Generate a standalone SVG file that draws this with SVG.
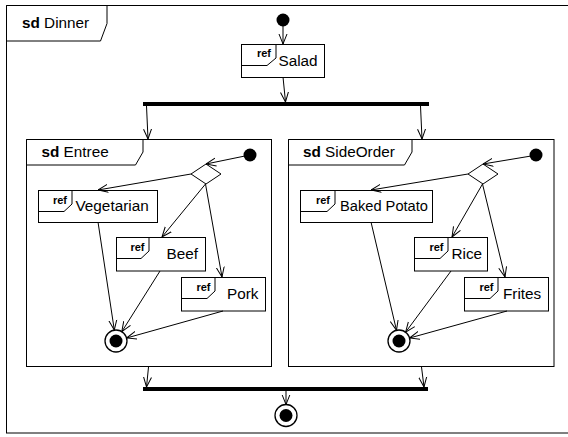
<svg xmlns="http://www.w3.org/2000/svg" width="568" height="437" viewBox="0 0 568 437">
<defs>
<marker id="arr" viewBox="0 0 10 10" refX="10" refY="5" markerWidth="10" markerHeight="10" markerUnits="userSpaceOnUse" orient="auto">
<path d="M0,1 L10,5 L0,9" fill="none" stroke="#000" stroke-width="1"/>
</marker>
</defs>
<style>
.fr{fill:#fff;stroke:#000;stroke-width:1}
.lbl{fill:#fff;stroke:#000;stroke-width:1}
.t{font-family:"Liberation Sans",Arial,sans-serif;font-size:15.3px;fill:#000}
.b{font-weight:bold}
.ref{font-family:"Liberation Sans",Arial,sans-serif;font-size:11px;font-weight:bold;fill:#000;text-anchor:end}
.box{fill:#fff;stroke:#000;stroke-width:1}
.tab{fill:none;stroke:#000;stroke-width:1}
.c line,.c path{stroke:#000;stroke-width:1;fill:none;marker-end:url(#arr)}
.dot{fill:#000}
.ring{fill:#fff;stroke:#000;stroke-width:1.3}
</style>
<g id="frame-dinner">
<rect class="fr" x="6.5" y="5.5" width="563" height="427.5"/>
<path class="lbl" d="M6.5,5.5 H107 V23.5 L100.5,41 H6.5 Z"/>
<text class="t" x="22" y="28"><tspan class="b">sd</tspan> Dinner</text>
</g>
<g id="frame-entree">
<rect class="fr" x="26.5" y="139.5" width="245" height="227"/>
<path class="lbl" d="M26.5,139.5 H143 V152 L135.5,165 H26.5 Z"/>
<text class="t" x="41.5" y="157"><tspan class="b">sd</tspan> Entree</text>
</g>
<g id="frame-sideorder">
<rect class="fr" x="288.5" y="139.5" width="265.5" height="227"/>
<path class="lbl" d="M288.5,139.5 H412 V152 L404.5,165 H288.5 Z"/>
<text class="t" x="303" y="157"><tspan class="b">sd</tspan> SideOrder</text>
</g>
<g id="start-dinner"><circle class="dot" cx="283" cy="20" r="6.5"/></g>
<g id="salad">
<rect class="box" x="241.5" y="44.5" width="83" height="33"/>
<path class="tab" d="M241.5,65.5 H267 L276,58 V44.5"/>
<text class="ref" x="271" y="57">ref</text>
<text class="t" x="278.5" y="66">Salad</text>
</g>
<g id="fork"><rect x="143" y="102" width="286" height="4" fill="#000"/></g>
<g id="join"><rect x="143" y="387" width="285" height="4" fill="#000"/></g>
<g id="end-dinner"><circle class="ring" cx="286" cy="415.5" r="11"/><circle class="dot" cx="286" cy="415.5" r="6.5"/></g>
<g id="start-entree"><circle class="dot" cx="250" cy="155" r="6.5"/></g>
<g id="decision-entree"><path class="box" d="M191,174 L206,164 L221,174 L206,184 Z"/></g>
<g id="vegetarian">
<rect class="box" x="38.5" y="190.5" width="119" height="32"/>
<path class="tab" d="M38.5,211.5 H64 L72,204 V190.5"/>
<text class="ref" x="67" y="203.5">ref</text>
<text class="t" x="75.5" y="210.5">Vegetarian</text>
</g>
<g id="beef">
<rect class="box" x="116.5" y="237.5" width="89" height="33.5"/>
<path class="tab" d="M116.5,258.5 H141 L149,251 V237.5"/>
<text class="ref" x="144.5" y="250.5">ref</text>
<text class="t" x="166.5" y="258.5">Beef</text>
</g>
<g id="pork">
<rect class="box" x="181.5" y="277.5" width="84" height="33.5"/>
<path class="tab" d="M181.5,298.5 H207 L215,291 V277.5"/>
<text class="ref" x="210.5" y="290.5">ref</text>
<text class="t" x="227" y="298.5">Pork</text>
</g>
<g id="end-entree"><circle class="ring" cx="116" cy="341" r="11"/><circle class="dot" cx="116" cy="341" r="6.5"/></g>
<g id="start-sideorder"><circle class="dot" cx="536" cy="155" r="6.5"/></g>
<g id="decision-sideorder"><path class="box" d="M468,174 L483,164 L498,174 L483,184 Z"/></g>
<g id="bakedpotato">
<rect class="box" x="300.5" y="190.5" width="132" height="32"/>
<path class="tab" d="M300.5,211.5 H327 L335,204 V190.5"/>
<text class="ref" x="330" y="203.5">ref</text>
<text class="t" x="340" y="210.5" textLength="88" lengthAdjust="spacingAndGlyphs">Baked Potato</text>
</g>
<g id="rice">
<rect class="box" x="414.5" y="237.5" width="73" height="33.5"/>
<path class="tab" d="M414.5,258.5 H440 L448,251 V237.5"/>
<text class="ref" x="443.5" y="250.5">ref</text>
<text class="t" x="451.5" y="258.5">Rice</text>
</g>
<g id="frites">
<rect class="box" x="464.5" y="277.5" width="84" height="33.5"/>
<path class="tab" d="M464.5,298.5 H490 L498,291 V277.5"/>
<text class="ref" x="493.5" y="290.5">ref</text>
<text class="t" x="503" y="298.5">Frites</text>
</g>
<g id="end-sideorder"><circle class="ring" cx="399" cy="341" r="11"/><circle class="dot" cx="399" cy="341" r="6.5"/></g>
<g id="connectors" class="c">
<line x1="283" y1="26" x2="283" y2="44"/>
<line x1="283" y1="77" x2="285.5" y2="102"/>
<line x1="146.5" y1="106" x2="148" y2="139"/>
<line x1="420.5" y1="106" x2="422" y2="139"/>
<line x1="148.5" y1="367" x2="146.5" y2="387"/>
<line x1="421.5" y1="367" x2="424" y2="387"/>
<line x1="286" y1="391" x2="286" y2="404.5"/>
<line x1="244" y1="156.2" x2="206" y2="164"/>
<line x1="191" y1="174" x2="98" y2="190"/>
<line x1="205.5" y1="184" x2="162" y2="237"/>
<line x1="205.5" y1="184" x2="222" y2="277"/>
<line x1="98" y1="222" x2="114.3" y2="330"/>
<line x1="160" y1="271" x2="121.8" y2="331.7"/>
<line x1="223" y1="311" x2="126.6" y2="338"/>
<line x1="530" y1="156.2" x2="483" y2="164"/>
<line x1="468" y1="174" x2="371" y2="190"/>
<line x1="482.5" y1="184" x2="452" y2="237"/>
<line x1="482.5" y1="184" x2="505" y2="277"/>
<line x1="371" y1="222" x2="396.5" y2="330.3"/>
<line x1="451" y1="271" x2="405.6" y2="332.2"/>
<line x1="507" y1="311" x2="409.6" y2="338"/>
</g>
</svg>
